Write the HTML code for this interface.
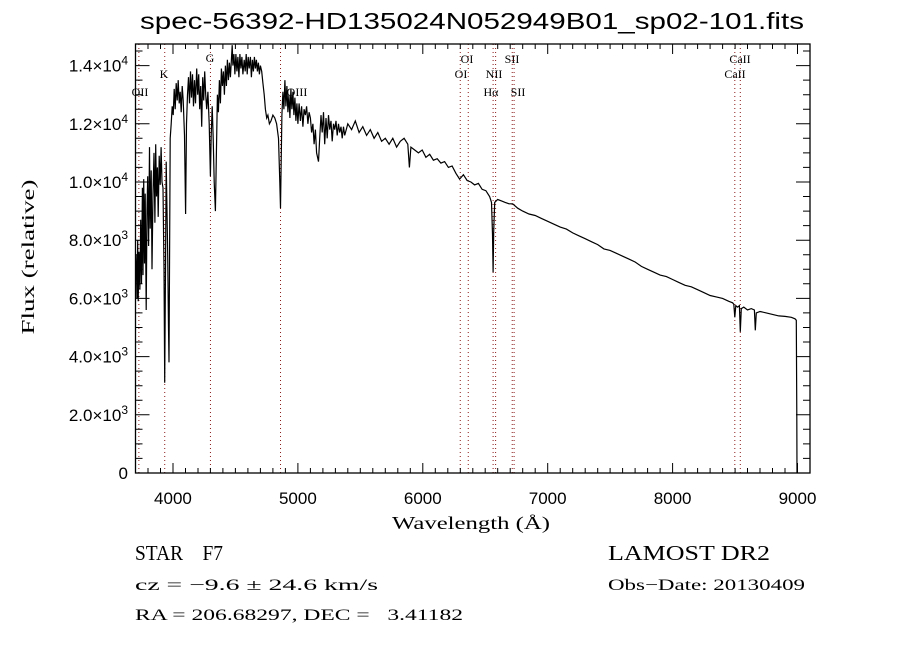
<!DOCTYPE html>
<html><head><meta charset="utf-8"><style>
html,body{margin:0;padding:0;background:#fff;}
svg{display:block;}
</style></head><body>
<svg id="chart" width="900" height="650" viewBox="0 0 900 650" xmlns="http://www.w3.org/2000/svg">
<rect x="0" y="0" width="900" height="650" fill="#fff"/>
<text x="472" y="29" text-anchor="middle" font-family="Liberation Sans, sans-serif" font-size="23" textLength="664" lengthAdjust="spacingAndGlyphs" fill="#000">spec-56392-HD135024N052949B01_sp02-101.fits</text>
<g id="lines"></g>
<g id="axes"></g>
<g id="series"></g>
<text x="471" y="529" text-anchor="middle" font-family="Liberation Serif, serif" font-size="18" textLength="158" lengthAdjust="spacingAndGlyphs">Wavelength (Å)</text>
<text transform="translate(34,257) rotate(-90)" text-anchor="middle" font-family="Liberation Serif, serif" font-size="18" textLength="155" lengthAdjust="spacingAndGlyphs">Flux (relative)</text>
<text x="135" y="560" font-family="Liberation Serif, serif" font-size="21" textLength="88" lengthAdjust="spacingAndGlyphs" xml:space="preserve">STAR    F7</text>
<text x="608" y="560" font-family="Liberation Serif, serif" font-size="21" textLength="162" lengthAdjust="spacingAndGlyphs">LAMOST DR2</text>
<text x="135" y="590" font-family="Liberation Serif, serif" font-size="16" textLength="243" lengthAdjust="spacingAndGlyphs">cz = −9.6 ± 24.6 km/s</text>
<text x="608" y="590" font-family="Liberation Serif, serif" font-size="16" textLength="197" lengthAdjust="spacingAndGlyphs">Obs−Date: 20130409</text>
<text x="135" y="620" font-family="Liberation Serif, serif" font-size="16" textLength="328" lengthAdjust="spacingAndGlyphs" xml:space="preserve">RA = 206.68297, DEC =   3.41182</text>
</svg>
<script>
const xTicks = [4000, 5000, 6000, 7000, 8000, 9000];
const yTicks = [0, 2000, 4000, 6000, 8000, 10000, 12000, 14000];
const yTickLabels = ["0", "2.0×10|3", "4.0×10|3", "6.0×10|3", "8.0×10|3", "1.0×10|4", "1.2×10|4", "1.4×10|4"];
const lineNames = ["OII", "K", "G", "OIII", "OI", "OI", "Hα", "NII", "SII", "SII", "CaII", "CaII"];
const lineWaves = [3727, 3934, 4300, 4861, 6300, 6364, 6563, 6583, 6716, 6731, 8498, 8542];
const wavelengths = [3705,3712,3718,3722,3728,3735,3742,3748,3755,3760,3766,3772,3778,3786,3792,3798,3805,3812,3818,3826,3832,3840,3848,3855,3862,3868,3875,3882,3890,3898,3905,3912,3920,3928,3934,3940,3946,3952,3958,3964,3968,3972,3978,3986,3994,4002,4010,4018,4026,4034,4042,4050,4058,4066,4074,4082,4092,4101,4108,4116,4124,4132,4140,4148,4156,4164,4172,4180,4190,4198,4206,4214,4222,4230,4238,4246,4254,4262,4270,4280,4290,4300,4306,4314,4322,4330,4340,4348,4356,4364,4372,4380,4388,4396,4404,4412,4420,4428,4436,4444,4452,4460,4468,4474,4480,4488,4496,4504,4512,4520,4528,4536,4544,4552,4560,4570,4578,4586,4594,4602,4610,4620,4628,4636,4644,4652,4660,4668,4676,4684,4692,4700,4710,4720,4730,4740,4750,4760,4772,4785,4800,4815,4830,4845,4855,4861,4866,4872,4880,4888,4896,4904,4912,4920,4928,4936,4944,4952,4960,4968,4976,4984,4992,5000,5010,5020,5030,5040,5050,5060,5070,5080,5090,5100,5110,5120,5130,5140,5150,5165,5175,5185,5195,5205,5215,5225,5235,5245,5255,5265,5275,5285,5295,5305,5315,5325,5335,5345,5355,5365,5375,
5400,5430,5460,5490,5520,5550,5580,5610,5640,5670,
5700,5730,5760,5790,5820,5850,5880,5893,5905,5935,
5965,5995,6025,6055,6085,6115,6145,6175,6205,6235,
6265,6295,6325,6355,6385,6415,6445,6475,6505,6535,
6550,6558,6563,6568,6576,6600,6630,6660,6690,6720,
6760,6800,6850,6900,6950,7000,7050,7100,7150,7200,
7250,7300,7350,7400,7450,7500,7550,7600,7650,7700,
7750,7800,7850,7900,7950,8000,8050,8100,8150,8200,
8250,8300,8350,8400,8450,8480,8490,8498,8506,8520,
8535,8542,8550,8570,8600,8630,8655,8662,8670,8700,
8750,8800,8850,8900,8950,8980,8990,8994,8996];
const fluxes = [7500,6000,8000,5900,7600,6300,8700,6500,9800,6800,10100,7200,9600,5600,9000,10200,7800,11200,8400,10400,7000,9600,11000,8600,11300,9500,10500,8800,10900,9900,11200,10000,9800,7000,3100,7000,10700,9000,7500,5000,3800,7000,11500,12000,12600,12300,13200,12500,13400,12800,13500,12700,13100,12400,13300,12800,11600,8900,12000,13000,13600,12700,13800,12900,13700,12600,13500,12700,13900,13000,13700,12500,13300,11900,13600,12800,13800,13000,12500,13100,12000,10200,11600,12600,11500,10000,9000,11000,13000,12400,13500,12700,13900,13300,13800,13000,14000,13300,14200,13500,14100,13600,14200,14700,14000,14400,13700,14400,13800,14300,13600,14400,13900,14300,13700,14200,13800,14400,13700,14300,13900,14300,13600,14200,13800,14300,13900,14200,13800,14100,13700,14000,13800,13400,13000,12500,12200,12300,12000,12100,12300,12200,12000,11500,10000,9100,10500,12300,13100,12500,13500,12600,13300,12400,13000,12200,13200,12500,13100,12300,12900,12100,12700,12000,12700,12100,12600,11900,12500,12300,12600,12000,12400,12200,11700,12000,11300,11800,11000,10700,11500,12300,11700,12400,11300,12200,11500,12300,11800,12100,11400,12000,11800,12100,11600,12000,11700,11900,11500,11900,11600,
12000,11800,12100,11700,11900,11600,11800,11500,11700,11400,
11500,11300,11500,11200,11400,11500,11300,10500,11200,11100,
11000,11100,10850,10950,10750,10800,10650,10700,10500,10550,
10300,10100,10250,10050,10000,9900,9950,9750,9700,9500,
9300,8200,6900,8300,9300,9400,9350,9300,9250,9250,
9100,9000,8900,8850,8750,8650,8550,8450,8380,8250,
8150,8050,7950,7850,7700,7650,7550,7450,7350,7250,
7100,7000,6900,6800,6750,6650,6550,6450,6400,6300,
6200,6100,6050,6000,5900,5850,5800,5350,5750,5700,
5750,4850,5650,5700,5600,5650,5600,4900,5500,5550,
5500,5450,5400,5380,5350,5300,5250,2000,0];

const L = 135.5, R = 810, T = 44, B = 473;
const X0 = 3700, X1 = 9100, YMAX = 14742;
const sx = w => L + (w - X0) * (R - L) / (X1 - X0);
const sy = f => B - f * (B - T) / YMAX;
const NS = "http://www.w3.org/2000/svg";
function mk(tag, parent) { const e = document.createElementNS(NS, tag); parent.appendChild(e); return e; }

const axes = document.getElementById('axes');
const frame = mk('rect', axes);
frame.setAttribute('x', L); frame.setAttribute('y', T);
frame.setAttribute('width', R - L); frame.setAttribute('height', B - T);
frame.setAttribute('fill', 'none'); frame.setAttribute('stroke', '#000'); frame.setAttribute('stroke-width', '1.3');



let tickPath = '';
for (let w = 3700; w <= 9100; w += 100) {
  const x = sx(w).toFixed(1);
  const len = (w % 1000 === 0) ? 10 : 5;
  tickPath += `M${x},${B}v${-len}M${x},${T}v${len}`;
}
for (let f = 0; f <= YMAX; f += 500) {
  const y = sy(f).toFixed(1);
  const len = (f % 2000 === 0) ? 14 : 7;
  tickPath += `M${L},${y}h${len}M${R},${y}h${-len}`;
}
const ticks = mk('path', axes);
ticks.setAttribute('d', tickPath); ticks.setAttribute('stroke', '#000'); ticks.setAttribute('stroke-width', '1');



xTicks.forEach(v => {
  const t = mk('text', axes);
  t.setAttribute('x', sx(v)); t.setAttribute('y', 504);
  t.setAttribute('text-anchor', 'middle'); t.setAttribute('font-family', 'Liberation Sans, sans-serif'); t.setAttribute('font-size', '17');
  t.textContent = String(v);
  
  
});
yTicks.forEach((v, i) => {
  const t = mk('text', axes);
  t.setAttribute('x', 128); t.setAttribute('y', sy(v) + 6);
  t.setAttribute('text-anchor', 'end'); t.setAttribute('font-family', 'Liberation Sans, sans-serif'); t.setAttribute('font-size', '17');
  const parts = yTickLabels[i].split('|');
  t.textContent = parts[0];
  if (parts[1]) {
    const s = mk('tspan', t);
    s.setAttribute('dy', '-7'); s.setAttribute('font-size', '12');
    s.textContent = parts[1];
  }
  
  
});

const lines = document.getElementById('lines');
const labelPos = [[140,96],[164,78],[210,62],[297,96],[467,63],[461,78],[491,96],[494,78],[512,63],[518,96],[740,63],[735,78]];
lineWaves.forEach((w, i) => {
  const ln = mk('line', lines);
  ln.setAttribute('x1', sx(w)); ln.setAttribute('x2', sx(w));
  ln.setAttribute('y1', T); ln.setAttribute('y2', B);
  ln.setAttribute('stroke', '#8b1a1a'); ln.setAttribute('stroke-width', '1'); ln.setAttribute('stroke-dasharray', '1,3');
  
  
  const t = mk('text', lines);
  t.setAttribute('x', labelPos[i][0]); t.setAttribute('y', labelPos[i][1]);
  t.setAttribute('text-anchor', 'middle'); t.setAttribute('font-family', 'Liberation Serif, serif'); t.setAttribute('font-size', '12');
  t.textContent = lineNames[i];
  
  
});

const series = document.getElementById('series');
let d = '';
const n = Math.min(wavelengths.length, fluxes.length);
for (let i = 0; i < n; i++) { d += (i ? 'L' : 'M') + sx(wavelengths[i]).toFixed(1) + ',' + sy(fluxes[i]).toFixed(1); }
const p = mk('path', series);
p.setAttribute('d', d); p.setAttribute('fill', 'none'); p.setAttribute('stroke', '#000'); p.setAttribute('stroke-width', '1.2');


</script>
</body></html>
